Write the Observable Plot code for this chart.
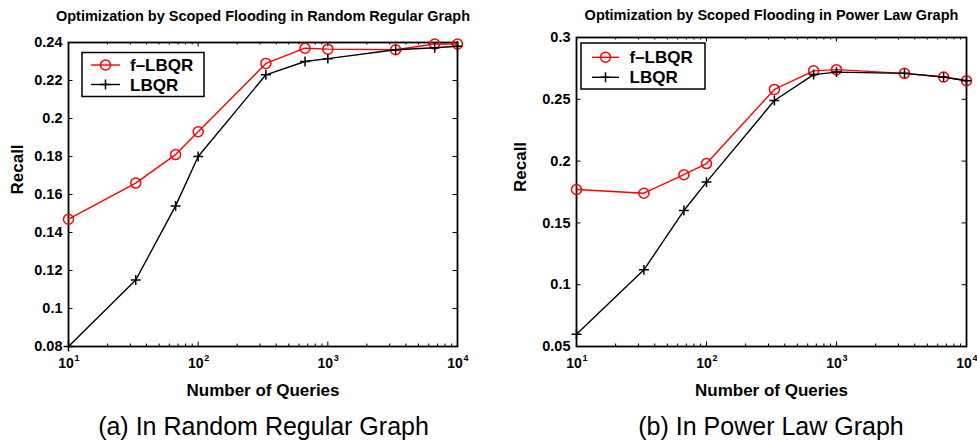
<!DOCTYPE html>
<html>
<head>
<meta charset="utf-8">
<script src="https://cdn.jsdelivr.net/npm/d3@7"></script>
<script src="https://cdn.jsdelivr.net/npm/@observablehq/plot@0.6"></script>
<style>
  html, body { margin: 0; padding: 0; background: #fff; }
  #wrap { position: relative; width: 977px; height: 443px; background: #fff; overflow: hidden;
          font-family: "Liberation Sans", Arial, Helvetica, sans-serif; }
  .panel { position: absolute; top: 0; }
  .caption { position: absolute; font-size: 25px; color: #000; white-space: nowrap; transform: translateX(-50%); line-height: 1; }
</style>
</head>
<body>
<div id="wrap"></div>
<script>
// ---- data ----
const queries = [10, 33, 67, 100, 333, 667, 1000, 3333, 6667, 10000];
const seriesNames = ["f\u2013LBQR", "LBQR"];
const rrFLBQR = [0.147, 0.166, 0.181, 0.193, 0.229, 0.237, 0.2365, 0.2362, 0.2392, 0.2392];
const rrLBQR  = [0.080, 0.115, 0.154, 0.180, 0.223, 0.230, 0.2315, 0.2362, 0.2372, 0.2380];
const plFLBQR = [0.177, 0.174, 0.189, 0.198, 0.258, 0.273, 0.274, 0.271, 0.268, 0.265];
const plLBQR  = [0.060, 0.112, 0.160, 0.183, 0.249, 0.270, 0.272, 0.271, 0.268, 0.265];

// ---- ticks ----
const xMajor = [10, 100, 1000, 10000];
const xExponents = ["1", "2", "3", "4"];
const xMinor = [20, 30, 40, 50, 60, 70, 80, 90, 200, 300, 400, 500, 600, 700, 800, 900,
                2000, 3000, 4000, 5000, 6000, 7000, 8000, 9000];
const yTicksRR = [0.08, 0.10, 0.12, 0.14, 0.16, 0.18, 0.20, 0.22, 0.24];
const yTicksPL = [0.05, 0.10, 0.15, 0.20, 0.25, 0.30];

// ---- texts ----
const titles = ["Optimization by Scoped Flooding in Random Regular Graph",
                "Optimization by Scoped Flooding in Power Law Graph"];
const captions = ["(a) In Random Regular Graph", "(b) In Power Law Graph"];
const xLabel = "Number of Queries";
const yLabel = "Recall";

const FONT = "Liberation Sans, Arial, Helvetica, sans-serif";
const RED = "#ff0000";

function rows(values) { return queries.map((q, i) => ({q, v: values[i]})); }

function makeChart(cfg) {
  const H = cfg.height - cfg.marginTop - cfg.marginBottom;
  const W = cfg.width - cfg.marginLeft - cfg.marginRight;
  const majorLen = 4.5, minorLen = 2.5;
  const fmt = d => String(+d.toFixed(3));
  const svg = Plot.plot({
    width: cfg.width, height: cfg.height,
    marginLeft: cfg.marginLeft, marginRight: cfg.marginRight,
    marginTop: cfg.marginTop, marginBottom: cfg.marginBottom,
    style: {fontFamily: FONT, color: "#000", background: "transparent", overflow: "visible"},
    x: {type: "log", domain: [10, 10000], axis: null},
    y: {domain: cfg.yDomain, axis: null},
    marks: [
      // tick marks inside the box
      Plot.ruleX(xMajor, {x: d => d, insetTop: H - majorLen, stroke: "#000", strokeWidth: 1}),
      Plot.ruleX(xMajor, {x: d => d, insetBottom: H - majorLen, stroke: "#000", strokeWidth: 1}),
      Plot.ruleX(xMinor, {x: d => d, insetTop: H - minorLen, stroke: "#000", strokeWidth: 1}),
      Plot.ruleX(xMinor, {x: d => d, insetBottom: H - minorLen, stroke: "#000", strokeWidth: 1}),
      Plot.ruleY(cfg.yTicks, {y: d => d, insetRight: W - majorLen, stroke: "#000", strokeWidth: 1}),
      Plot.ruleY(cfg.yTicks, {y: d => d, insetLeft: W - majorLen, stroke: "#000", strokeWidth: 1}),
      Plot.frame({stroke: "#000", strokeWidth: 1.8}),
      // y tick labels
      Plot.axisY({ticks: cfg.yTicks, tickSize: 0, tickPadding: 6, tickFormat: fmt, label: null,
                  fontSize: 14.5, fontWeight: "bold"}),
      // x tick labels 10^n
      Plot.text(xMajor, {x: d => d, frameAnchor: "bottom", dy: 17, dx: -2.5, text: () => "10",
                         fontSize: 14, fontWeight: "bold", lineAnchor: "middle"}),
      Plot.text(xMajor, {x: d => d, frameAnchor: "bottom", dy: 11.5, dx: 6, textAnchor: "start",
                         text: (d, i) => xExponents[i], fontSize: 9, fontWeight: "bold", lineAnchor: "middle"}),
      // titles and axis labels
      Plot.text([cfg.title], {text: d => d, frameAnchor: "top", dy: cfg.titleDy, fontSize: 14.5,
                              fontWeight: "bold", lineAnchor: "middle"}),
      Plot.text([xLabel], {text: d => d, frameAnchor: "bottom", dy: 44, fontSize: 17,
                           fontWeight: "bold", lineAnchor: "middle"}),
      Plot.text([yLabel], {text: d => d, frameAnchor: "left", dx: cfg.yLabelDx, rotate: -90,
                           fontSize: 17, fontWeight: "bold", lineAnchor: "middle"}),
      // series: f-LBQR (red, circles) then LBQR (black, plus)
      Plot.line(rows(cfg.f), {x: "q", y: "v", stroke: RED, strokeWidth: 1.4}),
      Plot.dot(rows(cfg.f), {x: "q", y: "v", symbol: "circle", r: 5, stroke: RED, strokeWidth: 1.5, fill: "none"}),
      Plot.line(rows(cfg.b), {x: "q", y: "v", stroke: "#000", strokeWidth: 1.4}),
      Plot.dot(rows(cfg.b), {x: "q", y: "v", symbol: "plus", r: 3.3, stroke: "#000", strokeWidth: 1.5})
    ]
  });

  // legend box (inside the plot area)
  const L = cfg.legend;
  const g = d3.select(svg).append("g").attr("transform", `translate(${L.x},${L.y})`);
  g.append("rect").attr("width", L.w).attr("height", L.h)
    .attr("fill", "#fff").attr("stroke", "#000").attr("stroke-width", 1.5);
  const items = [
    {name: seriesNames[0], color: RED, sym: "circle", y: L.row1},
    {name: seriesNames[1], color: "#000", sym: "plus", y: L.row2}
  ];
  for (const it of items) {
    g.append("line").attr("x1", L.lx1).attr("x2", L.lx2).attr("y1", it.y).attr("y2", it.y)
      .attr("stroke", it.color).attr("stroke-width", 1.4);
    const mx = (L.lx1 + L.lx2) / 2;
    if (it.sym === "circle") {
      g.append("circle").attr("cx", mx).attr("cy", it.y).attr("r", 5)
        .attr("fill", "none").attr("stroke", it.color).attr("stroke-width", 1.5);
    } else {
      g.append("path").attr("d", `M${mx - 5},${it.y}H${mx + 5}M${mx},${it.y - 5}V${it.y + 5}`)
        .attr("stroke", it.color).attr("stroke-width", 1.5);
    }
    g.append("text").attr("x", L.tx).attr("y", it.y).attr("dy", "0.36em")
      .attr("text-anchor", "start")
      .attr("font-family", FONT).attr("font-size", 17).attr("font-weight", "bold")
      .attr("fill", "#000").text(it.name);
  }
  return svg;
}

const wrap = document.getElementById("wrap");

const left = makeChart({
  width: 490, height: 400, marginLeft: 68, marginRight: 33, marginTop: 42, marginBottom: 54,
  yDomain: [0.08, 0.24], yTicks: yTicksRR, title: titles[0], titleDy: -26, yLabelDx: -51,
  f: rrFLBQR, b: rrLBQR,
  legend: {x: 82, y: 52.5, w: 122, h: 44, row1: 12.5, row2: 32, lx1: 9, lx2: 38, tx: 48}
});
const right = makeChart({
  width: 487, height: 400, marginLeft: 86, marginRight: 11, marginTop: 37, marginBottom: 54,
  yDomain: [0.05, 0.3], yTicks: yTicksPL, title: titles[1], titleDy: -22, yLabelDx: -56,
  f: plFLBQR, b: plLBQR,
  legend: {x: 91, y: 43, w: 124, h: 46, row1: 14.3, row2: 34.3, lx1: 11, lx2: 38, tx: 48.5}
});

const p1 = document.createElement("div"); p1.className = "panel"; p1.style.left = "0px"; p1.appendChild(left);
const p2 = document.createElement("div"); p2.className = "panel"; p2.style.left = "490px"; p2.appendChild(right);
wrap.appendChild(p1); wrap.appendChild(p2);

const capPos = [263.5, 771];
captions.forEach((c, i) => {
  const d = document.createElement("div");
  d.className = "caption";
  d.style.left = capPos[i] + "px";
  d.style.top = "414px";
  d.textContent = c;
  wrap.appendChild(d);
});
</script>
</body>
</html>
